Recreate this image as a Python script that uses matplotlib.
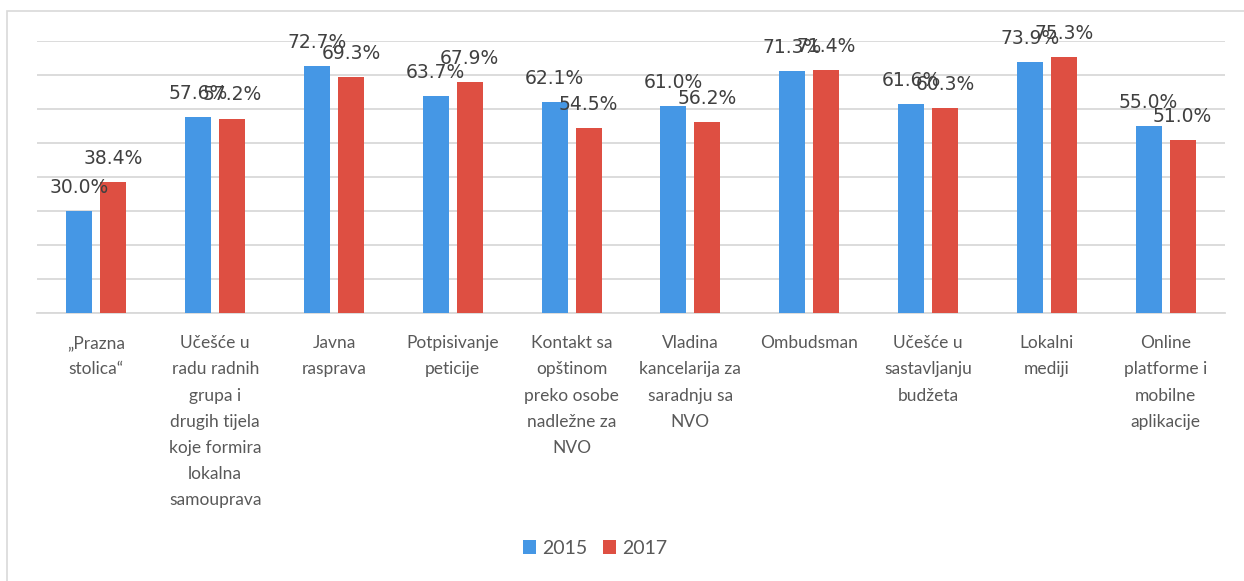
import matplotlib.pyplot as plt
import numpy as np
from matplotlib.patches import Rectangle

categories = [
    "\u201ePrazna\nstolica\u201c",
    "U\u010de\u0161\u0107e u\nradu radnih\ngrupa i\ndrugih tijela\nkoje formira\nlokalna\nsamouprava",
    "Javna\nrasprava",
    "Potpisivanje\npeticije",
    "Kontakt sa\nop\u0161tinom\npreko osobe\nnadle\u017ene za\nNVO",
    "Vladina\nkancelarija za\nsaradnju sa\nNVO",
    "Ombudsman",
    "U\u010de\u0161\u0107e u\nsastavljanju\nbud\u017eeta",
    "Lokalni\nmediji",
    "Online\nplatforme i\nmobilne\naplikacije",
]
vals_2015 = [30.0, 57.6, 72.7, 63.7, 62.1, 61.0, 71.3, 61.6, 73.9, 55.0]
vals_2017 = [38.4, 57.2, 69.3, 67.9, 54.5, 56.2, 71.4, 60.3, 75.3, 51.0]

blue = '#4597E5'
red = '#DE4F42'

fig = plt.figure(figsize=(12.44, 5.81), dpi=100)
W, H = 1244, 581
ax = fig.add_axes([37/W, (H-313)/H, (1225-37)/W, (313-41)/H])

# chart border
fig.patches.append(Rectangle((7/W, -0.1), 1.2, (H-11)/H + 0.1, transform=fig.transFigure,
                             fill=False, edgecolor='#d9d9d9', linewidth=1.2))

x = np.arange(len(categories))
w = 0.22
off = 0.143
b1 = ax.bar(x - off, vals_2015, w, color=blue, label='2015', zorder=3)
b2 = ax.bar(x + off, vals_2017, w, color=red, label='2017', zorder=3)

for bars, vals in ((b1, vals_2015), (b2, vals_2017)):
    for r, v in zip(bars, vals):
        ax.annotate(f"{v:.1f}%", (r.get_x() + r.get_width()/2, v),
                    xytext=(0, 13), textcoords='offset points',
                    ha='center', va='baseline', fontsize=13.5,
                    color='#404040', annotation_clip=False, zorder=5)

ax.set_xlim(-0.5, len(categories) - 0.5)
ax.set_ylim(0, 80)
ax.set_yticks(np.arange(0, 81, 10))
ax.yaxis.grid(True, color='#d9d9d9', linewidth=1.3, zorder=0)
ax.tick_params(axis='y', left=False, labelleft=False)
ax.tick_params(axis='x', length=0, pad=16)
ax.set_xticks(x)
ax.set_xticklabels(categories, fontsize=12.5, color='#595959',
                   family=['Lato', 'DejaVu Sans'],
                   linespacing=1.78, va='top')
for s in ['top', 'right', 'left']:
    ax.spines[s].set_visible(False)
ax.spines['bottom'].set_color('#d9d9d9')
ax.spines['bottom'].set_linewidth(1.3)

fig.legend(handles=[b1, b2], labels=['2015', '2017'], loc='center',
           bbox_to_anchor=(595/W, (H-548)/H), ncol=2, frameon=False,
           handlelength=0.7, handleheight=0.7, handletextpad=0.3,
           columnspacing=0.8, labelcolor='#595959',
           prop={'family': ['Lato', 'DejaVu Sans'], 'size': 14})

fig.savefig('out.png', dpi=100)
